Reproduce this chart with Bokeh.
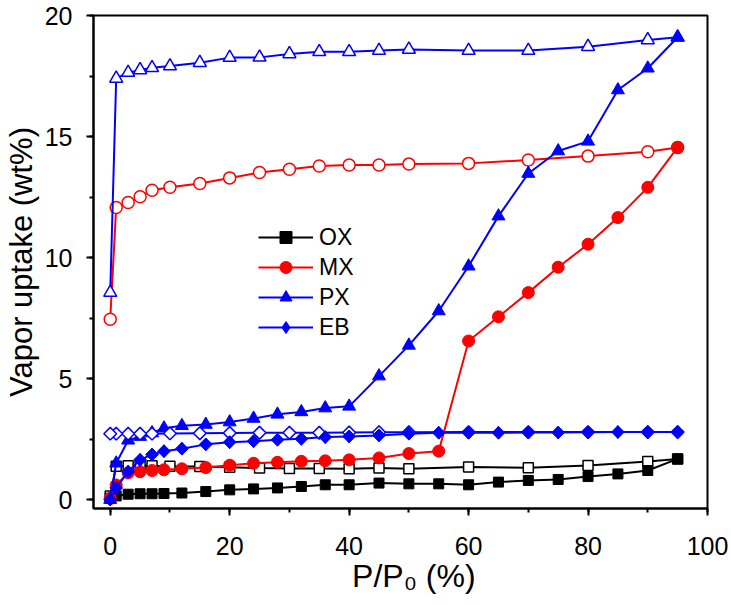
import numpy as np
from bokeh.plotting import figure
from bokeh.models import Legend, LegendItem, SingleIntervalTicker
from bokeh.embed import file_html
from bokeh.resources import INLINE

# Relative pressure (%) for adsorption and desorption branches
x_ads = [0, 1, 3, 5, 7, 9, 12, 16, 20, 24, 28, 32, 36, 40, 45, 50, 55, 60, 65, 70, 75, 80, 85, 90, 95]
x_des = [95, 90, 80, 70, 60, 50, 45, 40, 35, 30, 25, 20, 15, 10, 7, 5, 3, 1, 0]

# Vapor uptake (wt%)
ox_ads = [0.05, 0.15, 0.22, 0.24, 0.24, 0.25, 0.27, 0.33, 0.40, 0.44, 0.48, 0.54, 0.61, 0.61, 0.68,
          0.65, 0.65, 0.61, 0.72, 0.79, 0.83, 0.95, 1.06, 1.20, 1.68]
ox_des = [1.68, 1.57, 1.41, 1.31, 1.34, 1.27, 1.30, 1.27, 1.28, 1.28, 1.30, 1.33, 1.37, 1.38, 1.40,
          1.40, 1.40, 1.38, 0.15]

mx_ads = [0.05, 0.60, 1.10, 1.15, 1.20, 1.23, 1.27, 1.32, 1.42, 1.50, 1.54, 1.58, 1.60, 1.64, 1.72,
          1.90, 2.00, 6.55, 7.55, 8.55, 9.60, 10.55, 11.65, 12.90, 14.55]
mx_des = [14.55, 14.37, 14.19, 14.03, 13.89, 13.86, 13.82, 13.82, 13.78, 13.65, 13.51, 13.29, 13.06,
          12.90, 12.78, 12.51, 12.27, 12.07, 7.45]

px_ads = [0.0, 1.50, 2.45, 2.60, 2.75, 2.95, 3.05, 3.10, 3.20, 3.35, 3.52, 3.62, 3.78, 3.85, 5.10,
          6.37, 7.79, 9.64, 11.71, 13.47, 14.40, 14.80, 16.92, 17.82, 19.10]
px_des = [19.10, 18.99, 18.71, 18.55, 18.55, 18.60, 18.55, 18.50, 18.50, 18.41, 18.27, 18.26, 18.05,
          17.91, 17.84, 17.75, 17.64, 17.40, 8.55]

eb_ads = [0.0, 0.48, 1.15, 1.64, 1.86, 2.00, 2.10, 2.28, 2.37, 2.41, 2.47, 2.51, 2.58, 2.61, 2.65,
          2.72, 2.76, 2.76, 2.76, 2.77, 2.77, 2.78, 2.79, 2.79, 2.79]
eb_des = [2.79, 2.79, 2.79, 2.79, 2.79, 2.78, 2.78, 2.77, 2.76, 2.76, 2.76, 2.75, 2.74, 2.73, 2.72,
          2.72, 2.72, 2.72, 2.72]

names = ["OX", "MX", "PX", "EB"]
colors = ["#000000", "#ff0000", "#0000ff", "#0000ff"]

FONT = "Liberation Sans"

p = figure(width=731, height=605, x_range=(-2.8, 100), y_range=(-0.37, 20),
           output_backend="svg", toolbar_location=None,
           min_border_left=90, min_border_right=24, min_border_top=15, min_border_bottom=97)
p.grid.visible = False
p.outline_line_color = "black"
p.outline_line_width = 2
p.background_fill_color = "white"
p.border_fill_color = "white"

marker_specs = [
    dict(marker="square", size=10, angle=0.0),
    dict(marker="circle", size=12, angle=0.0),
    dict(marker="triangle", size=13, angle=0.0),
    dict(marker="square", size=9, angle=np.pi / 4),
]

series = [(ox_ads, ox_des), (mx_ads, mx_des), (px_ads, px_des), (eb_ads, eb_des)]

items = []
for name, color, spec, (ads, des) in zip(names, colors, marker_specs, series):
    l_des = p.line(x_des, des, line_color=color, line_width=2)
    l_ads = p.line(x_ads, ads, line_color=color, line_width=2)
    p.scatter(x_des, des, marker=spec["marker"], size=spec["size"], angle=spec["angle"],
              fill_color="white", line_color=color, line_width=1.5)
    key = None
    if spec["angle"] != 0.0:
        # plain diamond under the rotated square: hidden on the chart, used as legend key
        key = p.scatter(x_ads, ads, marker="diamond", size=12.7,
                        fill_color=color, line_color=color, line_width=1)
    s_ads = p.scatter(x_ads, ads, marker=spec["marker"], size=spec["size"], angle=spec["angle"],
                      fill_color=color, line_color=color, line_width=1)
    items.append(LegendItem(label=name, renderers=[l_ads, key if key is not None else s_ads]))

legend = Legend(items=items, location=(165, 166), orientation="vertical",
                label_text_font=FONT, label_text_font_size="23px", label_text_color="black",
                glyph_width=55, glyph_height=30, label_height=30, spacing=0, padding=0,
                margin=0, border_line_alpha=0, background_fill_alpha=0, label_standoff=6)
p.add_layout(legend)

p.xaxis.ticker = SingleIntervalTicker(interval=20, num_minor_ticks=2)
p.yaxis.ticker = SingleIntervalTicker(interval=5, num_minor_ticks=2)
p.xaxis.axis_label = "\u00a0\u00a0\u00a0P/P\u2080 (%)"
p.yaxis.axis_label = "Vapor uptake (wt%)"

for ax in (p.xaxis[0], p.yaxis[0]):
    ax.axis_line_width = 2
    ax.axis_line_color = "black"
    ax.major_tick_line_width = 2
    ax.minor_tick_line_width = 2
    ax.major_tick_line_color = "black"
    ax.minor_tick_line_color = "black"
    ax.major_tick_in = 0
    ax.major_tick_out = 7
    ax.minor_tick_in = 0
    ax.minor_tick_out = 4
    ax.major_label_text_font = FONT
    ax.major_label_text_font_size = "25px"
    ax.major_label_text_color = "black"
    ax.axis_label_text_font = FONT
    ax.axis_label_text_font_size = "32px"
    ax.axis_label_text_font_style = "normal"
    ax.axis_label_text_color = "black"

p.yaxis.axis_label_text_font_size = "31px"
p.xaxis.major_label_standoff = 21
p.xaxis.axis_label_standoff = 0
p.yaxis.major_label_standoff = 14
p.yaxis.axis_label_standoff = 3

open("out.html", "w").write(file_html(p, INLINE))
